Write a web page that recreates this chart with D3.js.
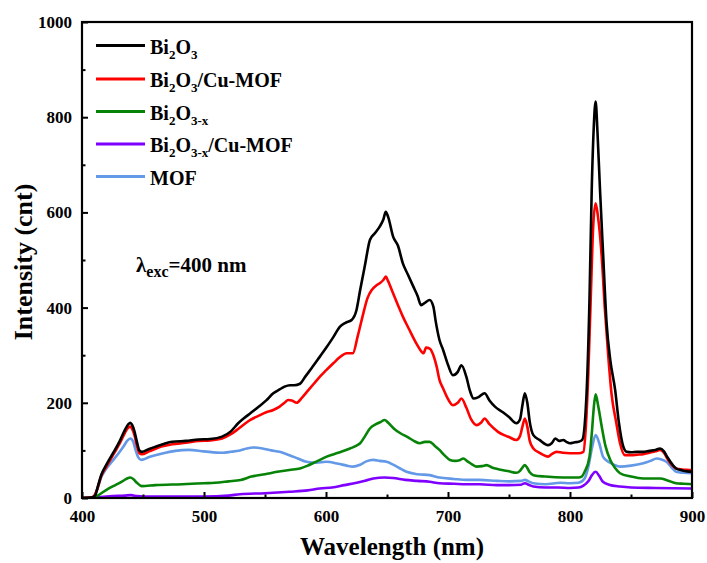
<!DOCTYPE html>
<html>
<head>
<meta charset="utf-8">
<script src="https://cdn.jsdelivr.net/npm/d3@7"></script>
<style>
  html, body { margin: 0; padding: 0; background: #fff; }
  svg { display: block; }
  text { font-family: "Liberation Serif", "Times New Roman", serif; font-weight: bold; fill: #000; }
</style>
</head>
<body>
<svg id="chart" width="707" height="563"></svg>
<script>
// ---------------- DATA ----------------
const xTicks = [400, 500, 600, 700, 800, 900];
const yTicks = [0, 200, 400, 600, 800, 1000];

const bi2o3WL = [400,407,409,411,412,416,420,424,427,431,435,438,439.6,441,443,445,447,449,455,465,474,485,495.6,505,514.8,522,528,533,538,545,551,556.8,562,566,570.5,574,578.7,583,588,595,600,606,611.5,616,621,625,628,632,636,640,644,647,649,651,655,659,663,667,671.6,675,678,681,685,688,690,693,696,700,704,708,711,715,718,721,725,730,734,738.5,745,750,756,759,761,763,765,767,770,775,782,785,788,791,794.5,797,800,804,807,810,813.7,816,817.8,819.5,821,822.5,824.6,827,830,833,837,840,843.7,846.5,850,855,860,865,870,873.8,877,880,884,887,892,896,900];
const bi2o3Val = [0,1,2,6,15,50,70,88,101,120,142,155,158,154,140,118,100,97,103,112,118,120,123,124,129,140,157,168,178,192,205,220,228,234,237,237,240,255,272,297,315,338,360,368,374,395,437,490,542,556,570,585,601,590,549,530,493,470,444,425,405,410,416,402,370,332,311,280,258,265,279,255,225,209,212,220,205,192,180,170,157,165,195,220,200,160,132,122,111,115,125,120,122,118,115,117,118,122,227,420,647,780,833,770,647,520,367,290,227,160,108,97,96,97,97,99,101,104,98,85,70,62,58,56,55];

const bi2o3CuWL = [400,407,409,412,416,420,424,427,431,435,438,439.6,441,443,445,447,449,455,465,474,485,495.6,505,514.8,522,528,533,538,545,551,556.8,562,566,569,572,576,580,585,590,595,600,606,611,617,622,626,630.6,634,637.5,641,644,647,649,651,655,659,663,668,674,677,680,682,685,688,690.7,693,696,699,704,708,711,715,719,723.5,727,730,734,741,746,750,756,759,761,763,765,767,770,775,782,785,789,794,800,807,811,813,815,817,819,821,823,826,828.5,831.4,834,838,841,845,850,855,860,865,870,873.8,877,880,884,887,892,896,900];
const bi2o3CuVal = [0,1,2,15,48,66,84,97,115,136,148,150,146,132,110,94,92,98,108,113,116,120,121,125,134,145,155,164,173,180,185,192,200,206,205,200,210,225,240,255,268,283,295,304,304,340,388,420,437,446,451,458,465,455,430,405,381,355,325,312,304,316,314,300,276,248,230,213,195,200,209,190,165,153,158,167,155,139,132,128,122,130,150,167,150,120,104,95,87,92,97,95,94,94,97,150,262,420,570,619,590,507,400,297,220,157,115,90,90,91,92,95,98,101,95,82,68,62,60,59,58];

const bi2o3xWL = [400,410,413,417,422,428,433,437,439.6,442,445,449,460,482,500,509,520,530,539,550,560,570,578.7,585,590,595,600.6,610,619.7,625,628,632,636,641,645,648,651,656,661,667,672,677,681,685,689,693,697,701.6,706,710,712.5,716,720,723.5,728,731.7,736,742,750,756,759,761,763,765,767,770,780,794.5,807,809.6,812,816,818,819.5,821,823,826,829,833,837,841,850,860,867,874,880,887,893,900];
const bi2o3xVal = [0,0,5,12,20,28,35,41,43,40,32,25,27,29,31,32,35,38,45,50,55,59,62,68,74,80,87,95,104,110,115,130,146,155,160,164,158,145,136,128,120,115,118,118,110,101,90,80,78,80,83,77,70,66,67,69,64,60,56,53,57,64,69,63,54,48,45,43,43,45,55,87,140,190,218,195,150,110,80,63,52,45,41,41,41,37,31,30,29];

const bi2o3xCuWL = [400,408,415,425,435,440,445,450,470,500,520,529.5,550,570,585,595,605,615,625,632,638.8,648,655,665,675,685,693,705,715,726,740,750,760,763,766,770,780,790,800,807,811,815,818,821,824,827,832,841,850,870,900];
const bi2o3xCuVal = [0,0,2,4,5,6,4,3,3,3,5,8,10,13,16,20,22,27,32,36,41,43,42,38,36,34,31,30,29,29,27,27,28,31,28,24,22,22,21,22,26,35,48,55,46,34,28,24,22,21,20];

const mofWL = [400,409,412,416,420,425,430,434,437,439.6,442,444,446,448.6,455,465,476.5,487.5,500,514.8,522,529.5,535,540.4,548,555,562,570,577,584,592,600,610,617,622,628,633,638.8,644,649.7,655,660,666,675,685,693,705,715,726,740,750,760,763,766,770,780,792,800,807,812,815,818,821,824,827,832,836,841,850,860,866,871,875,879,883,887,893,900];
const mofVal = [0,0,15,45,62,78,94,108,120,125,118,100,86,80,86,93,99,101,98,95,97,100,104,106,104,100,97,90,83,76,74,76,72,68,66,70,77,80,78,76,70,63,55,50,48,43,40,38,38,36,35,36,38,35,31,29,32,31,32,41,65,105,132,115,87,75,70,66,68,73,78,83,81,76,65,55,53,52];

const seriesNames = ["Bi2O3", "Bi2O3/Cu-MOF", "Bi2O3-x", "Bi2O3-x/Cu-MOF", "MOF"];
const seriesColors = ["#000000", "#ff0000", "#078307", "#7f00ff", "#6399e6"];

// -------------- CHART ---------------
const svg = d3.select("#chart");
const L = 82, R = 692, T = 22, B = 498;

const x = d3.scaleLinear().domain([400, 900]).range([L, R]);
const y = d3.scaleLinear().domain([0, 1000]).range([B, T]);

const series = [
  {wl: bi2o3WL, v: bi2o3Val},
  {wl: bi2o3CuWL, v: bi2o3CuVal},
  {wl: bi2o3xWL, v: bi2o3xVal},
  {wl: bi2o3xCuWL, v: bi2o3xCuVal},
  {wl: mofWL, v: mofVal}
];

const clip = svg.append("clipPath").attr("id", "clip")
  .append("rect").attr("x", L).attr("y", T).attr("width", R - L).attr("height", B - T);

const line = d3.line().x(d => x(d[0])).y(d => y(d[1])).curve(d3.curveMonotoneX);

// draw in reverse order so black is on top
const order = [4, 3, 2, 1, 0];
const gLines = svg.append("g").attr("clip-path", "url(#clip)");
order.forEach(i => {
  const s = series[i];
  const pts = s.wl.map((w, k) => [w, s.v[k]]);
  gLines.append("path")
    .attr("d", line(pts))
    .attr("fill", "none")
    .attr("stroke", seriesColors[i])
    .attr("stroke-width", 2.6)
    .attr("stroke-linejoin", "round");
});

// axes
const xAxis = d3.axisBottom(x).tickValues(xTicks).tickSizeInner(-6).tickSizeOuter(0).tickPadding(12).tickFormat(d3.format("d"));
const xMinor = d3.axisBottom(x).tickValues([450, 550, 650, 750, 850]).tickSizeInner(-3.5).tickSizeOuter(0).tickFormat("");
const yAxis = d3.axisLeft(y).tickValues(yTicks).tickSizeInner(-6).tickSizeOuter(0).tickPadding(10).tickFormat(d3.format("d"));
const yMinor = d3.axisLeft(y).tickValues([100, 300, 500, 700, 900]).tickSizeInner(-3.5).tickSizeOuter(0).tickFormat("");

function styleAxis(g) {
  g.select(".domain").remove();
  g.selectAll(".tick line").attr("stroke", "#000").attr("stroke-width", 2);
  g.selectAll(".tick text").style("font-family", "'Liberation Serif', serif").style("font-weight", "bold").style("font-size", "17px").attr("fill", "#000");
}
svg.append("g").attr("transform", `translate(0,${B})`).call(xAxis).call(styleAxis);
svg.append("g").attr("transform", `translate(0,${B})`).call(xMinor).call(styleAxis);
svg.append("g").attr("transform", `translate(${L},0)`).call(yAxis).call(styleAxis);
svg.append("g").attr("transform", `translate(${L},0)`).call(yMinor).call(styleAxis);

// frame
svg.append("rect").attr("x", L).attr("y", T).attr("width", R - L).attr("height", B - T)
  .attr("fill", "none").attr("stroke", "#000").attr("stroke-width", 2.2);

// axis titles
svg.append("text").attr("x", 392).attr("y", 555).attr("text-anchor", "middle")
  .style("font-size", "25px").text("Wavelength (nm)");
svg.append("text").attr("transform", "translate(32,262) rotate(-90)").attr("text-anchor", "middle")
  .style("font-size", "26px").text("Intensity (cnt)");

// legend
const legendLabels = [
  [["Bi", 0], ["2", 1], ["O", 0], ["3", 1]],
  [["Bi", 0], ["2", 1], ["O", 0], ["3", 1], ["/Cu-MOF", 0]],
  [["Bi", 0], ["2", 1], ["O", 0], ["3-x", 1]],
  [["Bi", 0], ["2", 1], ["O", 0], ["3-x", 1], ["/Cu-MOF", 0]],
  [["MOF", 0]]
];
const rowY = [45.5, 79, 111.5, 144, 176.5];
legendLabels.forEach((parts, i) => {
  svg.append("line").attr("x1", 96).attr("x2", 145).attr("y1", rowY[i]).attr("y2", rowY[i])
    .attr("stroke", seriesColors[i]).attr("stroke-width", 3);
  const t = svg.append("text").attr("x", 150).attr("y", rowY[i] + 8).style("font-size", "20px");
  parts.forEach(p => {
    const ts = t.append("tspan").text(p[0]);
    if (p[1] === 1) ts.attr("dy", 5).style("font-size", "13px");
    else ts.attr("dy", 0);
  });
  // reset baseline for tspans following a subscript
  let prevSub = false;
  t.selectAll("tspan").each(function(d, k) {
    const isSub = parts[k][1] === 1;
    let dy = 0;
    if (isSub && !prevSub) dy = 5;
    else if (!isSub && prevSub) dy = -5;
    d3.select(this).attr("dy", dy);
    prevSub = isSub;
  });
});

// annotation
const ann = svg.append("text").attr("x", 136).attr("y", 272).style("font-size", "21px");
ann.append("tspan").text("λ");
ann.append("tspan").attr("dy", 5).style("font-size", "16px").text("exc");
ann.append("tspan").attr("dy", -5).text("=400 nm");
</script>
</body>
</html>
